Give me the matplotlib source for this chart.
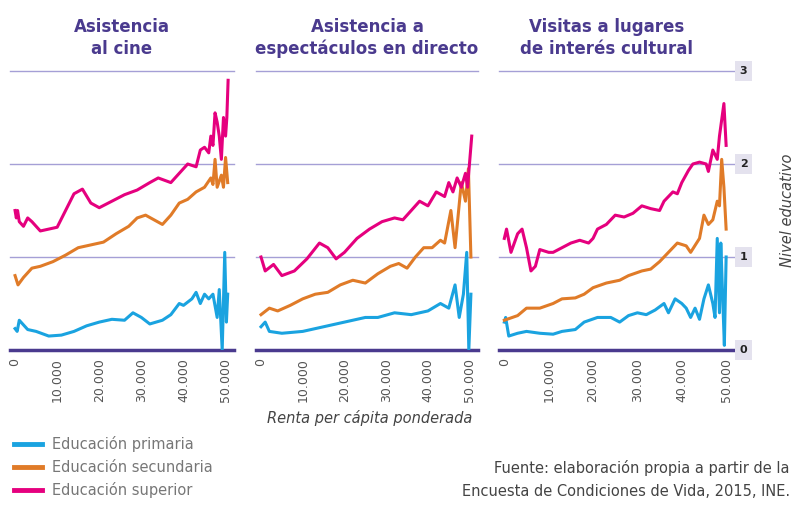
import matplotlib
matplotlib.use("Agg")
import matplotlib.pyplot as plt
from matplotlib.lines import Line2D

W, H = 800, 509
BLUE, ORANGE, PINK = "#1aa3e0", "#e07b28", "#e5007e"
PURPLE = "#4a3a8e"
GRID = "#a59fd6"

titles = ["Asistencia\nal cine", "Asistencia a\nespectáculos en directo",
          "Visitas a lugares\nde interés cultural"]

# panel 1: cine (x in thousands of euros)
cine_sup_x = [0, 0.3, 0.6, 1, 2, 3, 4, 6, 8, 10, 12, 14, 16, 18, 20, 23, 26, 29, 32, 34, 37, 39, 41, 43, 44, 45, 46, 46.5, 47, 47.5, 48, 48.5, 49, 49.5, 50, 50.3, 50.6]
cine_sup_y = [1.5, 1.42, 1.5, 1.38, 1.33, 1.42, 1.38, 1.28, 1.3, 1.32, 1.5, 1.68, 1.73, 1.58, 1.53, 1.6, 1.67, 1.72, 1.8, 1.85, 1.8, 1.9, 2.0, 1.97, 2.15, 2.18, 2.12, 2.3, 2.2, 2.55, 2.45, 2.3, 2.05, 2.5, 2.3, 2.5, 2.9]
cine_sec_x = [0, 0.7, 2, 4, 6, 9, 12, 15, 18, 21, 24, 27, 29, 31, 33, 35, 37, 39, 41, 43, 45, 46.5, 47, 47.5, 48, 49, 49.5, 50, 50.5]
cine_sec_y = [0.8, 0.7, 0.78, 0.88, 0.9, 0.95, 1.02, 1.1, 1.13, 1.16, 1.25, 1.33, 1.42, 1.45, 1.4, 1.35, 1.45, 1.58, 1.62, 1.7, 1.75, 1.85, 1.78, 2.05, 1.75, 1.88, 1.75, 2.07, 1.8]
cine_pri_x = [0, 0.5, 1, 3, 5, 8, 11, 14, 17, 20, 23, 26, 28, 30, 32, 35, 37, 39, 40, 42, 43, 44, 45, 46, 47, 48, 48.5, 49.2, 49.8, 50.2, 50.5]
cine_pri_y = [0.23, 0.2, 0.32, 0.22, 0.2, 0.15, 0.16, 0.2, 0.26, 0.3, 0.33, 0.32, 0.4, 0.35, 0.28, 0.32, 0.38, 0.5, 0.48, 0.55, 0.62, 0.5, 0.6, 0.55, 0.6, 0.35, 0.65, 0.0, 1.05, 0.3, 0.6]

# panel 2: espectáculos en directo
esp_sup_x = [0, 1, 3, 5, 8, 11, 14, 16, 18, 20, 23, 26, 29, 32, 34, 36, 38, 40, 42, 44, 45, 46, 47, 48, 49, 49.5, 50.5]
esp_sup_y = [1.0, 0.85, 0.92, 0.8, 0.85, 0.98, 1.15, 1.1, 0.98, 1.05, 1.2, 1.3, 1.38, 1.42, 1.4, 1.5, 1.6, 1.55, 1.7, 1.65, 1.8, 1.7, 1.85, 1.75, 1.9, 1.75, 2.3]
esp_sec_x = [0, 2, 4, 7, 10, 13, 16, 19, 22, 25, 28, 31, 33, 35, 37, 39, 41, 43, 44, 45.5, 46.5, 48, 49, 49.7, 50.3]
esp_sec_y = [0.38, 0.45, 0.42, 0.48, 0.55, 0.6, 0.62, 0.7, 0.75, 0.72, 0.82, 0.9, 0.93, 0.88, 1.0, 1.1, 1.1, 1.18, 1.15, 1.5, 1.1, 1.8, 1.6, 1.95, 1.0]
esp_pri_x = [0, 1, 2, 5, 10, 15, 20, 25, 28, 32, 36, 40, 43, 45, 46.5, 47.5, 48.5, 49.3, 49.8, 50.3]
esp_pri_y = [0.25, 0.3, 0.2, 0.18, 0.2, 0.25, 0.3, 0.35, 0.35, 0.4, 0.38, 0.42, 0.5, 0.45, 0.7, 0.35, 0.6, 1.05, 0.0, 0.6]

# panel 3: lugares de interés cultural
vis_sup_x = [0, 0.5, 1.5, 3, 4, 5, 6, 7, 8, 10, 11, 13, 15, 17, 19, 20, 21, 23, 25, 27, 29, 31, 33, 35, 36, 38, 39, 40, 41.5, 42.5, 44, 45.5, 46, 47, 48, 48.5, 49.5, 50]
vis_sup_y = [1.2, 1.3, 1.05, 1.25, 1.3, 1.1, 0.85, 0.9, 1.08, 1.05, 1.05, 1.1, 1.15, 1.18, 1.15, 1.2, 1.3, 1.35, 1.45, 1.43, 1.47, 1.55, 1.52, 1.5, 1.6, 1.7, 1.68, 1.8, 1.93, 2.0, 2.02, 2.0, 1.92, 2.15, 2.05, 2.3, 2.65, 2.2]
vis_sec_x = [0, 3, 5, 8, 11, 13, 16, 18, 20, 23, 26, 28, 31, 33, 35, 37, 39, 41, 42, 44, 45, 46, 47, 48, 48.5, 49, 49.5, 50]
vis_sec_y = [0.32, 0.37, 0.45, 0.45, 0.5, 0.55, 0.56, 0.6, 0.67, 0.72, 0.75, 0.8, 0.85, 0.87, 0.95, 1.05, 1.15, 1.12, 1.05, 1.2, 1.45, 1.35, 1.4, 1.6, 1.55, 2.05, 1.75, 1.3]
vis_pri_x = [0, 0.3, 1, 3, 5, 8, 11, 13, 16, 18, 21, 24, 26, 28, 30, 32, 34, 36, 37, 38.5, 40, 41, 42, 43, 44, 45, 46, 47, 47.5, 48, 48.5, 48.8, 49.2, 49.6, 50]
vis_pri_y = [0.3, 0.35, 0.15, 0.18, 0.2, 0.18, 0.17, 0.2, 0.22, 0.3, 0.35, 0.35, 0.3, 0.37, 0.4, 0.38, 0.43, 0.5, 0.4, 0.55, 0.5, 0.45, 0.35, 0.45, 0.33, 0.55, 0.7, 0.5, 0.35, 1.2, 0.4, 1.15, 0.6, 0.05, 1.0]

panels = [
    [(cine_pri_x, cine_pri_y), (cine_sec_x, cine_sec_y), (cine_sup_x, cine_sup_y)],
    [(esp_pri_x, esp_pri_y), (esp_sec_x, esp_sec_y), (esp_sup_x, esp_sup_y)],
    [(vis_pri_x, vis_pri_y), (vis_sec_x, vis_sec_y), (vis_sup_x, vis_sup_y)],
]
colors = [BLUE, ORANGE, PINK]
series_names = ["Educación primaria", "Educación secundaria", "Educación superior"]
xticks = [0, 10, 20, 30, 40, 50]
yticks = [0, 1, 2, 3]

fig = plt.figure(figsize=(W / 100, H / 100), dpi=100)
lefts = [(10, 234), (256, 478), (499, 735)]
bot, top = 350, 71
for i, (l, r) in enumerate(lefts):
    ax = fig.add_axes([l / W, 1 - bot / H, (r - l) / W, (bot - top) / H])
    for (xs, ys), c in zip(panels[i], colors):
        ax.plot(xs, ys, color=c, lw=2.2, solid_joinstyle="round", zorder=3)
    for v in yticks[1:]:
        ax.axhline(v, color=GRID, lw=1, zorder=1, clip_on=False)
    ax.axhline(0, color=PURPLE, lw=2.5, zorder=2, clip_on=False)
    ax.set_xlim(-1.2, 52)
    ax.set_ylim(0, 3)
    for s in ax.spines.values():
        s.set_visible(False)
    ax.set_yticks([])
    ax.set_xticks(xticks)
    ax.set_xticklabels(["0" if t == 0 else f"{t}.000" for t in xticks],
                       rotation=90, fontsize=9, color="#555555")
    ax.tick_params(axis="x", length=0, pad=6)
    cx = (l + r) / 2 / W if i < 2 else (l + r - 20) / 2 / W
    fig.text(cx, 1 - 38 / H, titles[i], ha="center", va="center",
             fontsize=12, fontweight="bold", color=PURPLE, linespacing=1.3)
    if i == 2:
        for v in yticks:
            ax.text(1.02, v / 3, str(v), transform=ax.transAxes, ha="left", va="center",
                    fontsize=8, fontweight="bold", color="#222222",
                    bbox=dict(boxstyle="square,pad=0.45", fc="#e4e2ee", ec="none"))

fig.text(370 / W, 1 - 418 / H, "Renta per cápita ponderada", ha="center", va="center",
         fontsize=10.5, style="italic", color="#444444")
fig.text(787 / W, 1 - 210 / H, "Nivel educativo", ha="center", va="center",
         rotation=90, fontsize=10.5, style="italic", color="#444444")

for j, (name, c) in enumerate(zip(series_names, colors)):
    y = 1 - (444 + j * 23) / H
    fig.add_artist(Line2D([14 / W, 42 / W], [y, y], color=c, lw=3.5))
    fig.text(52 / W, y, name, ha="left", va="center", fontsize=10.5, color="#777777")

fig.text(790 / W, 1 - 468 / H, "Fuente: elaboración propia a partir de la",
         ha="right", va="center", fontsize=10.5, color="#444444")
fig.text(790 / W, 1 - 491 / H, "Encuesta de Condiciones de Vida, 2015, INE.",
         ha="right", va="center", fontsize=10.5, color="#444444")

fig.savefig("out.png", dpi=100)
